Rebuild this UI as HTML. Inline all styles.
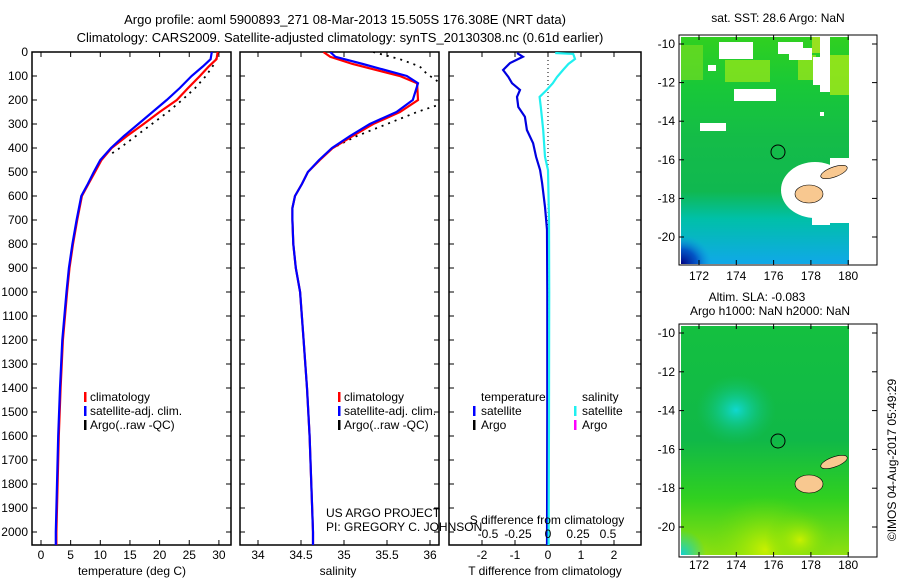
<!DOCTYPE html>
<html><head><meta charset="utf-8"><style>
body{margin:0;background:#fff;}
svg{display:block;font-family:"Liberation Sans",sans-serif;}
</style></head><body>
<svg id="fig" width="900" height="580" viewBox="0 0 900 580">
<defs>
<linearGradient id="g1" x1="0" y1="0" x2="0" y2="1">
<stop offset="0" stop-color="#30d020"/><stop offset="0.22" stop-color="#18c838"/><stop offset="0.45" stop-color="#14bc48"/><stop offset="0.68" stop-color="#10b850"/><stop offset="0.8" stop-color="#00c0a8"/><stop offset="1" stop-color="#10a8e8"/>
</linearGradient>
<radialGradient id="navy" cx="0" cy="1" r="0.35"><stop offset="0" stop-color="#000080"/><stop offset="0.5" stop-color="#0040c0" stop-opacity="0.8"/><stop offset="1" stop-color="#10a0e8" stop-opacity="0"/></radialGradient>
<linearGradient id="g2" x1="0" y1="0" x2="0" y2="1">
<stop offset="0" stop-color="#14c040"/><stop offset="0.5" stop-color="#10b848"/><stop offset="0.75" stop-color="#30d020"/><stop offset="1" stop-color="#90e010"/>
</linearGradient>
<radialGradient id="cy2"><stop offset="0" stop-color="#10d8d0"/><stop offset="1" stop-color="#10c070" stop-opacity="0"/></radialGradient>
<radialGradient id="ye2"><stop offset="0" stop-color="#c8f000"/><stop offset="1" stop-color="#60d810" stop-opacity="0"/></radialGradient>
<radialGradient id="cyc"><stop offset="0" stop-color="#10d0d0"/><stop offset="1" stop-color="#10d0d0" stop-opacity="0"/></radialGradient>
<clipPath id="c1"><rect x="32" y="52" width="199" height="493"/></clipPath>
<clipPath id="c2"><rect x="240" y="52" width="199" height="493"/></clipPath>
<clipPath id="c3"><rect x="449" y="52" width="192" height="493"/></clipPath>
<clipPath id="m1"><rect x="681" y="37" width="168" height="227"/></clipPath>
<clipPath id="m2"><rect x="681" y="326" width="168" height="229"/></clipPath>
</defs>
<g font-size="13" fill="#000" text-anchor="middle">
<text x="345" y="24">Argo profile: aoml 5900893_271 08-Mar-2013 15.505S 176.308E (NRT data)</text>
<text x="340" y="42">Climatology: CARS2009. Satellite-adjusted climatology: synTS_20130308.nc (0.61d earlier)</text>
</g>
<g id="maps">
<g>
<g clip-path="url(#m1)">
<rect x="681" y="37" width="168" height="227" fill="url(#g1)"/>
<rect x="681" y="180" width="90" height="84" fill="url(#navy)"/>
<rect x="681" y="45" width="22" height="35" fill="#80e020" opacity="0.6"/>
<rect x="725" y="60" width="45" height="22" fill="#a0e818" opacity="0.7"/>
<rect x="798" y="55" width="18" height="25" fill="#a8e818" opacity="0.7"/>
<rect x="830" y="55" width="19" height="40" fill="#a8e818" opacity="0.8"/>
<rect x="812" y="37" width="18" height="16" fill="#98e020"/>
<g fill="#fff">
<rect x="719" y="42" width="34" height="17"/>
<rect x="778" y="42" width="25" height="12"/><rect x="789" y="48" width="23" height="12"/>
<rect x="813" y="57" width="16" height="28"/><rect x="820" y="37" width="10" height="55"/>
<rect x="734" y="89" width="42" height="12"/>
<rect x="700" y="123" width="26" height="8"/><rect x="708" y="65" width="8" height="6"/>
<rect x="820" y="112" width="4" height="4"/>
<ellipse cx="815" cy="190" rx="34" ry="28"/><rect x="830" y="158" width="20" height="65"/>
<rect x="812" y="210" width="18" height="15"/>
</g>
</g>
<rect x="849" y="37" width="28" height="227" fill="#fff"/>
<ellipse cx="809" cy="194" rx="14" ry="9" fill="#f8c890" stroke="#000" stroke-width="0.6"/>
<ellipse cx="834" cy="172" rx="14" ry="5" transform="rotate(-20 834 172)" fill="#f8c890" stroke="#000" stroke-width="0.6"/>
<circle cx="778" cy="152" r="7" fill="none" stroke="#000"/>
<rect x="679" y="35" width="198" height="230" fill="none" stroke="#000"/>
</g>
<g>
<g clip-path="url(#m2)">
<rect x="681" y="326" width="168" height="229" fill="url(#g2)"/>
<ellipse cx="736" cy="410" rx="40" ry="35" fill="url(#cy2)"/>
<ellipse cx="765" cy="550" rx="60" ry="55" fill="url(#ye2)"/>
<ellipse cx="800" cy="540" rx="35" ry="30" fill="url(#ye2)"/>
<ellipse cx="681" cy="555" rx="25" ry="25" fill="url(#cyc)"/>
</g>
<ellipse cx="809" cy="484" rx="14" ry="9" fill="#f8c890" stroke="#000" stroke-width="0.6"/>
<ellipse cx="834" cy="462" rx="14" ry="5" transform="rotate(-20 834 462)" fill="#f8c890" stroke="#000" stroke-width="0.6"/>
<circle cx="778" cy="441" r="7" fill="none" stroke="#000"/>
<rect x="679" y="324" width="198" height="233" fill="none" stroke="#000"/>
</g>
<g font-size="12" text-anchor="middle">
<text x="778" y="22">sat. SST: 28.6 Argo: NaN</text>
<text x="757" y="301">Altim. SLA: -0.083</text>
<text x="770" y="315">Argo h1000: NaN h2000: NaN</text>
<text transform="translate(896,460) rotate(-90)">©IMOS 04-Aug-2017 05:49:29</text>
</g>
</g>
<g id="plots"></g>
</svg>
<script>
const depthT = [0,30,60,100,150,200,250,300,350,400,450,500,550,600,700,800,900,1000,1200,1400,1600,1800,2000,2054];
const tempClim = [29.8,29.6,28.3,26.8,24.8,22.9,20.0,17.3,14.5,11.9,10.2,9.1,8.0,6.9,6.1,5.4,4.8,4.4,3.7,3.3,3.0,2.8,2.6,2.6];
const tempSat  = [28.8,28.6,27.3,25.4,23.4,21.2,18.8,16.4,14.0,11.8,10.0,8.9,7.9,6.8,6.0,5.3,4.7,4.3,3.6,3.2,2.9,2.7,2.5,2.5];
const depthArgo = [0,50,100,150,200,250,300,350,400,430];
const tempArgo = [29.9,29.2,27.8,26.0,23.8,21.4,18.7,16.0,13.3,11.5];
const depthS = [0,20,50,100,130,200,250,300,350,400,450,500,550,600,650,700,800,900,1000,1200,1400,1600,1800,2000,2054];
const salClim = [34.76,34.84,35.10,35.65,35.85,35.86,35.65,35.34,35.10,34.87,34.72,34.58,34.51,34.43,34.40,34.40,34.41,34.44,34.49,34.53,34.57,34.60,34.62,34.64,34.64];
const salSat  = [34.84,34.90,35.22,35.73,35.86,35.80,35.61,35.30,35.07,34.86,34.71,34.58,34.51,34.43,34.40,34.40,34.41,34.44,34.49,34.53,34.57,34.60,34.62,34.64,34.64];
const depthSArgo = [0,30,60,90,120,160,220,250,300,350,400];
const salArgo = [35.34,35.65,35.88,35.96,36.08,36.2,36.1,35.85,35.5,35.15,34.87];
const depthD = [4,20,46,75,104,130,158,187,229,270,325,380,437,492,546,646,740,1000,1500,2054];
const tDiff = [-0.94,-0.76,-1.15,-1.36,-1.2,-1.09,-0.85,-0.94,-0.9,-0.7,-0.64,-0.45,-0.36,-0.24,-0.18,-0.09,-0.03,-0.02,-0.02,-0.03];
const depthDS = [4,8,29,50,75,104,130,158,187,229,325,437,492,700,1000,1500,2054];
const sDiff = [0.06,0.21,0.225,0.17,0.125,0.075,0.04,-0.01,-0.07,-0.06,-0.04,-0.025,0,0.008,0.01,0.008,0.005];
const depthTicks = [0,100,200,300,400,500,600,700,800,900,1000,1100,1200,1300,1400,1500,1600,1700,1800,1900,2000];
const tempTicks = [0,5,10,15,20,25,30];
const salTicks = [34,34.5,35,35.5,36];
const tdTicks = [-2,-1,0,1,2];
const sdTicks = [-0.5,-0.25,0,0.25,0.5];
const latTicks = [-10,-12,-14,-16,-18,-20];
const lonTicks = [172,174,176,178,180];

const NS='http://www.w3.org/2000/svg';
const root=document.getElementById('plots');
function mk(tag,attrs,parent){const e=document.createElementNS(NS,tag);for(const k in attrs)e.setAttribute(k,attrs[k]);(parent||root).appendChild(e);return e;}
const yD=d=>52+d*0.24;
const xT=t=>41+t*5.93;
const xS=s=>258+(s-34)*86;
const xTD=t=>548+t*33;
const xSD=s=>548+s*120;
function line(xs,ds,xf,color,w,clip,name,dash){
  const p=xs.map((v,i)=>xf(v).toFixed(1)+','+yD(ds[i]).toFixed(1)).join(' ');
  const e=mk('polyline',{points:p,fill:'none',stroke:color,'stroke-width':w,'clip-path':'url(#'+clip+')'});
  if(dash)e.setAttribute('stroke-dasharray',dash);
  
  
}
function txt(x,y,s,anchor,size,name){const e=mk('text',{x:x,y:y,'text-anchor':anchor||'start','font-size':size||12});e.textContent=s;return e;}
function frame(x0,x1,name){const e=mk('rect',{x:x0,y:52,width:x1-x0,height:493,fill:'none',stroke:'#000','stroke-width':1.5});
  depthTicks.forEach(d=>{mk('line',{x1:x0,x2:x0+5,y1:yD(d),y2:yD(d),stroke:'#000'});mk('line',{x1:x1-5,x2:x1,y1:yD(d),y2:yD(d),stroke:'#000'});});}
function xticks(vals,xf,y,name){vals.forEach(v=>{mk('line',{x1:xf(v),x2:xf(v),y1:52,y2:57,stroke:'#000'});mk('line',{x1:xf(v),x2:xf(v),y1:540,y2:545,stroke:'#000'});txt(xf(v),y,String(v),'middle',12,name);});}

frame(32,231,'temperature-panel');
depthTicks.forEach(d=>txt(28,yD(d)+4,String(d),'end',12,'depth-tick-label'));
xticks(tempTicks,xT,559,'temperature-tick-label');
line(tempArgo,depthArgo,xT,'#000',1.8,'c1','argo-temperature-line','2,5');
line(tempClim,depthT,xT,'#ff0000',2.2,'c1','climatology-temperature-line');
line(tempSat,depthT,xT,'#0000ff',2.2,'c1','satellite-temperature-line');
txt(132,575,'temperature (deg C)','middle',12,'temperature-axis-title');

frame(240,439,'salinity-panel');
xticks(salTicks,xS,559,'salinity-tick-label');
line(salArgo,depthSArgo,xS,'#000',1.8,'c2','argo-salinity-line','2,5');
line(salClim,depthS,xS,'#ff0000',2.2,'c2','climatology-salinity-line');
line(salSat,depthS,xS,'#0000ff',2.2,'c2','satellite-salinity-line');
txt(338,575,'salinity','middle',12,'salinity-axis-title');

[[84,'climatology','#ff0000'],[84,'satellite-adj. clim.','#0000ff'],[84,'Argo(..raw -QC)','#000']].forEach((l,i)=>{
  [84,338].forEach(x=>{mk('rect',{x:x,y:392+i*14,width:2.5,height:10,fill:l[2]});txt(x+6,401+i*14,l[1],'start',12,'legend-entry');});
});
txt(326,517,'US ARGO PROJECT','start',12,'project-label');
txt(326,531,'PI: GREGORY C. JOHNSON','start',12,'pi-label');

frame(449,641,'difference-panel');
mk('line',{x1:548,x2:548,y1:52,y2:545,stroke:'#000','stroke-dasharray':'1,3'});
tdTicks.forEach(v=>{mk('line',{x1:xTD(v),x2:xTD(v),y1:52,y2:57,stroke:'#000'});mk('line',{x1:xTD(v),x2:xTD(v),y1:540,y2:545,stroke:'#000'});txt(xTD(v),559,String(v),'middle',12,'t-diff-tick-label');});
line(tDiff,depthD,xTD,'#0000e0',2.2,'c3','t-difference-line');
line(sDiff,depthDS,xSD,'#20f0f0',2.2,'c3','s-difference-line');
sdTicks.forEach(v=>txt(xSD(v),538,String(v),'middle',12,'s-diff-tick-label'));
txt(547,524,'S difference from climatology','middle',12,'s-diff-axis-title');
txt(545,575,'T difference from climatology','middle',12,'t-diff-axis-title');
txt(481,401,'temperature','start',12,'legend-temperature-header');
txt(582,401,'salinity','start',12,'legend-salinity-header');
[['satellite','#0000ff','#20f0f0'],['Argo','#000','#ff00ff']].forEach((l,i)=>{
  mk('rect',{x:473,y:406+i*14,width:2.5,height:10,fill:l[1]});txt(481,415+i*14,l[0],'start',12,'legend-entry');
  mk('rect',{x:574,y:406+i*14,width:2.5,height:10,fill:l[2]});txt(582,415+i*14,l[0],'start',12,'legend-entry');
});

const xLon=l=>699+(l-172)*18.65;
[[44,19.3,280,35,265],[333,19.4,569,324,557]].forEach(m=>{
  latTicks.forEach(v=>{const Y=m[0]+(-(v+10))*m[1];
    mk('line',{x1:679,x2:684,y1:Y,y2:Y,stroke:'#000'});mk('line',{x1:872,x2:877,y1:Y,y2:Y,stroke:'#000'});
    txt(675,Y+4,String(v),'end',12,'latitude-tick-label');});
  lonTicks.forEach(v=>{mk('line',{x1:xLon(v),x2:xLon(v),y1:m[3],y2:m[3]+5,stroke:'#000'});mk('line',{x1:xLon(v),x2:xLon(v),y1:m[4]-5,y2:m[4],stroke:'#000'});
    txt(xLon(v),m[2],String(v),'middle',12,'longitude-tick-label');});
});
</script>
</body></html>
